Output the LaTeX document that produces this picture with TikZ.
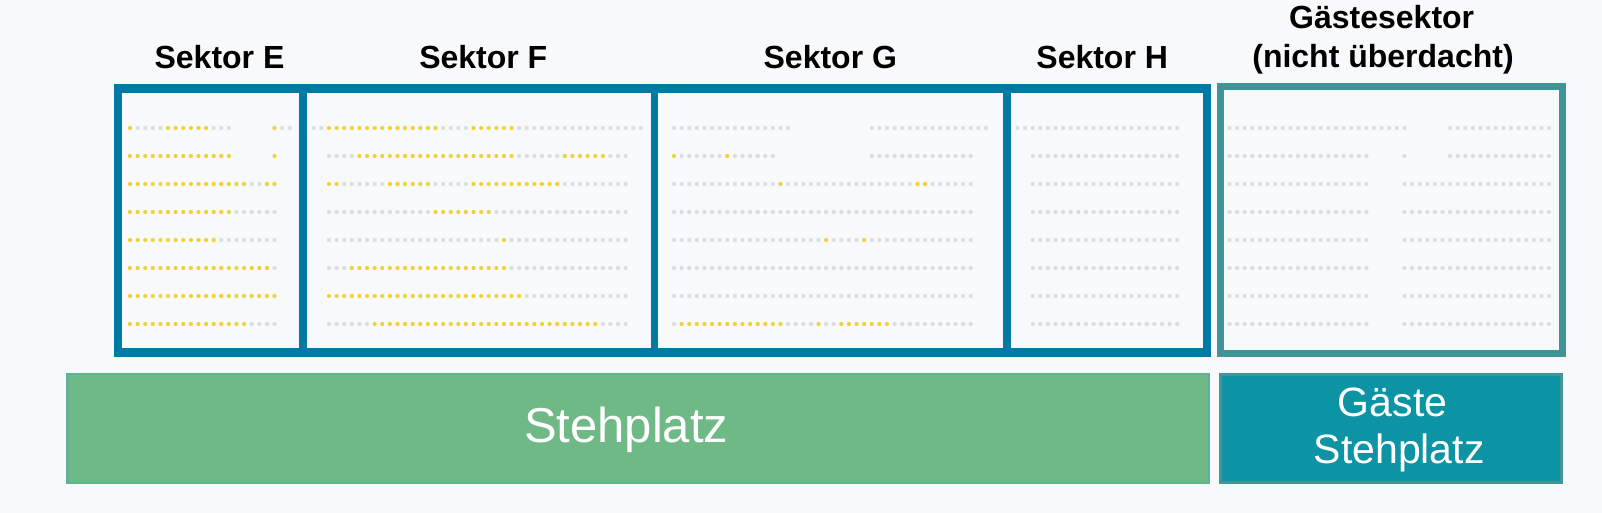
\documentclass[tikz,border=0pt]{standalone}
\usepackage{fontspec}
\setmainfont{Liberation Sans}
\definecolor{bgc}{RGB}{248,249,251}
\definecolor{frameblue}{RGB}{0,122,164}
\definecolor{gastframe}{RGB}{64,147,151}
\definecolor{gastfill}{RGB}{12,148,165}
\definecolor{gastline}{RGB}{70,148,150}
\definecolor{greenfill}{RGB}{111,185,135}
\definecolor{greenline}{RGB}{95,178,150}
\definecolor{dotY}{RGB}{242,210,50}
\definecolor{dotG}{RGB}{220,221,225}
\newcount\dcolc
\newcommand\dotruns[4]{%
  \global\dcolc=#3\relax
  \foreach \dn/\dc in {#4}{%
    \foreach \dk in {1,...,\dn}{%
      \if\dc y\fill[dotY] ({#1+(\the\dcolc)*7.607},#2) circle[radius=1.05pt];\fi
      \if\dc g\fill[dotG] ({#1+(\the\dcolc)*7.607},#2) circle[radius=1.05pt];\fi
      \global\advance\dcolc by 1\relax
    }%
  }%
}
\begin{document}
\begin{tikzpicture}[x=0.5pt,y=-0.5pt,
  title/.style={inner sep=0pt,anchor=base,font=\fontsize{16pt}{19pt}\selectfont\bfseries,text=black},
  bigtxt/.style={inner sep=0pt,anchor=base,font=\fontsize{24.5pt}{29pt}\selectfont,text=white},
  midtxt/.style={inner sep=0pt,anchor=base,font=\fontsize{20.5pt}{24pt}\selectfont,text=white},
  frameline/.style={draw=frameblue,line width=4.15pt},
  gastframeline/.style={draw=gastframe,line width=3.5pt}]
\useasboundingbox (0,0) rectangle (1602,513);
\fill[bgc] (0,0) rectangle (1602,513);

% ---- dots: Sektor E
\dotruns{130}{128}{0}{1/y,4/g,6/y,3/g,5/x,1/y,2/g}
\dotruns{130}{156}{0}{14/y,5/x,1/y}
\dotruns{130}{184}{0}{16/y,2/g,2/y}
\dotruns{130}{212}{0}{14/y,6/g}
\dotruns{130}{240}{0}{12/y,8/g}
\dotruns{130}{268}{0}{19/y,1/g}
\dotruns{130}{296}{0}{20/y}
\dotruns{130}{324}{0}{16/y,4/g}
% ---- Sektor F
\dotruns{329}{128}{-2}{2/g,15/y,4/g,6/y,17/g}
\dotruns{329}{156}{0}{4/g,21/y,6/g,6/y,3/g}
\dotruns{329}{184}{0}{2/y,6/g,6/y,5/g,12/y,9/g}
\dotruns{329}{212}{0}{14/g,8/y,18/g}
\dotruns{329}{240}{0}{23/g,1/y,16/g}
\dotruns{329}{268}{0}{3/g,21/y,16/g}
\dotruns{329}{296}{0}{26/y,14/g}
\dotruns{329}{324}{0}{6/g,30/y,4/g}
% ---- Sektor G
\dotruns{674}{128}{0}{16/g,10/x,16/g}
\dotruns{674}{156}{0}{1/y,6/g,1/y,6/g,12/x,14/g}
\dotruns{674}{184}{0}{14/g,1/y,17/g,2/y,6/g}
\dotruns{674}{212}{0}{40/g}
\dotruns{674}{240}{0}{20/g,1/y,4/g,1/y,14/g}
\dotruns{674}{268}{0}{40/g}
\dotruns{674}{296}{0}{40/g}
\dotruns{674}{324}{0}{1/g,14/y,4/g,1/y,2/g,7/y,11/g}
% ---- Sektor H
\dotruns{1032.7}{128}{-2}{22/g}
\foreach \r in {1,...,7}{\dotruns{1032.7}{128+28*\r}{0}{20/g}}
% ---- Gaestesektor
\dotruns{1229.5}{128}{0}{24/g,5/x,14/g}
\dotruns{1229.5}{156}{0}{19/g,4/x,1/g,5/x,14/g}
\foreach \r in {2,...,7}{\dotruns{1229.5}{128+28*\r}{0}{19/g,4/x,20/g}}

% ---- frames
\draw[frameline] (118.2,88.5) rectangle (1206.7,352.5);
\draw[frameblue,line width=3.85pt] (302.9,88.5) -- (302.9,352.5);
\draw[frameblue,line width=3.85pt] (654.5,88.5) -- (654.5,352.5);
\draw[frameblue,line width=4pt] (1006.7,88.5) -- (1006.7,352.5);
\draw[gastframeline] (1220.2,86.8) rectangle (1562.5,353.8);

% ---- labels
\node[title] (lE) at (219.5,68.3) {Sektor E};
\node[title] (lF) at (483.3,68.3) {Sektor F};
\node[title] (lG) at (830.3,68.3) {Sektor G};
\node[title] (lH) at (1102.2,68.3) {Sektor H};
\node[title] (lGa) at (1381.7,28.7) {Gästesektor};
\node[title] (lGb) at (1383,67.3) {(nicht überdacht)};

% ---- standing areas
\fill[greenfill] (66,372.7) rectangle (1210,484);
\draw[greenline,line width=1.25pt] (67.25,373.95) rectangle (1208.75,482.75);
\node[bigtxt] (steh) at (626.2,442.3) {Stehplatz};

\fill[gastfill] (1219,372.7) rectangle (1563.3,484);
\draw[gastline,line width=1.5pt] (1220.5,374.2) rectangle (1561.8,482.5);
\node[midtxt] (gs1) at (1392.5,416) {Gäste};
\node[midtxt] (gs2) at (1399.2,463.3) {Stehplatz};
\end{tikzpicture}
\end{document}
